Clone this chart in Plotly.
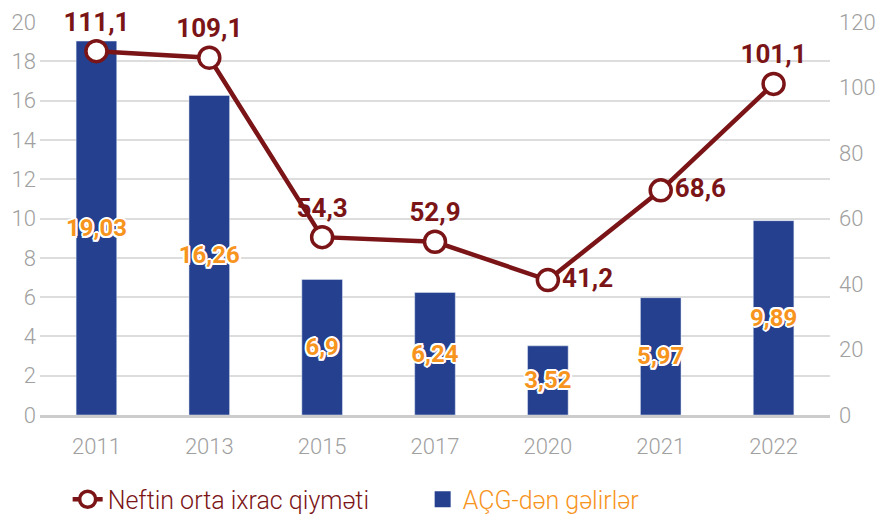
import plotly.graph_objects as go

years = ["2011", "2013", "2015", "2017", "2020", "2021", "2022"]
revenue = [19.03, 16.26, 6.9, 6.24, 3.52, 5.97, 9.89]
price = [111.1, 109.1, 54.3, 52.9, 41.2, 68.6, 101.1]
rev_labels = ["19,03", "16,26", "6,9", "6,24", "3,52", "5,97", "9,89"]
price_labels = ["111,1", "109,1", "54,3", "52,9", "41,2", "68,6", "101,1"]
price_label_pos = ["top center", "top center", "top center", "top center",
                   "middle right", "middle right", "top center"]

BAR = "#25408F"
RED = "#7B1416"
ORANGE = "#F7941D"
GRAY = "#a0a0a0"

outline = ("-1.5px -1.5px 0 #fff, 1.5px -1.5px 0 #fff, -1.5px 1.5px 0 #fff, 1.5px 1.5px 0 #fff, "
           "0 2px 0 #fff, 0 -2px 0 #fff, 2px 0 0 #fff, -2px 0 0 #fff")

fig = go.Figure()
fig.add_trace(go.Bar(
    x=years, y=revenue, showlegend=False,
    marker=dict(color=BAR), width=0.36,
    text=rev_labels, textposition="inside", insidetextanchor="middle",
    constraintext="none", textangle=0,
    textfont=dict(family="Roboto", size=24, color=ORANGE, weight="bold", shadow=outline),
    yaxis="y",
))
fig.add_trace(go.Scatter(
    x=years, y=price, name=f"<span style='color:{RED}'>Neftin orta ixrac qiyməti</span>",
    mode="lines+markers+text", yaxis="y2",
    line=dict(color=RED, width=4.5),
    marker=dict(symbol="circle", size=21, color="white", line=dict(color=RED, width=3.5)),
    text=price_labels, textposition=price_label_pos,
    textfont=dict(family="Roboto", size=26, color=RED, weight="bold"),
    cliponaxis=False,
))
# legend proxy for the bar series (larger square symbol)
fig.add_trace(go.Scatter(
    x=[None], y=[None], mode="markers",
    name=f"<span style='color:{ORANGE}'>AÇG-dən gəlirlər</span>",
    marker=dict(symbol="square", size=22, color=BAR),
))

fig.update_layout(
    width=886, height=523,
    margin=dict(l=40, r=56, t=22, b=108, autoexpand=False),
    paper_bgcolor="white", plot_bgcolor="white",
    font=dict(family="Roboto", color=GRAY),
    showlegend=True,
    legend=dict(orientation="h", x=0.035, xanchor="left",
                y=-0.215, yanchor="middle", itemsizing="trace",
                font=dict(family="Roboto", size=25, weight=300),
                entrywidth=310, entrywidthmode="pixels"),
    xaxis=dict(type="category",
               tickfont=dict(size=22, color=GRAY, weight=300), ticklabelstandoff=10,
               showgrid=False, ticks="", showline=True, linecolor="#cccccc", linewidth=3),
    yaxis=dict(range=[0, 20], dtick=2, showgrid=True, gridcolor="#dddddd", gridwidth=1.5,
               zeroline=False, tickfont=dict(size=22, color=GRAY, weight=300), ticks="",
               ticklabelstandoff=3),
    yaxis2=dict(range=[0, 120], dtick=20, overlaying="y", side="right", showgrid=False,
                zeroline=False, tickfont=dict(size=22, color=GRAY, weight=300), ticks="",
                ticklabelstandoff=8),
)

fig.write_html("out.html")
